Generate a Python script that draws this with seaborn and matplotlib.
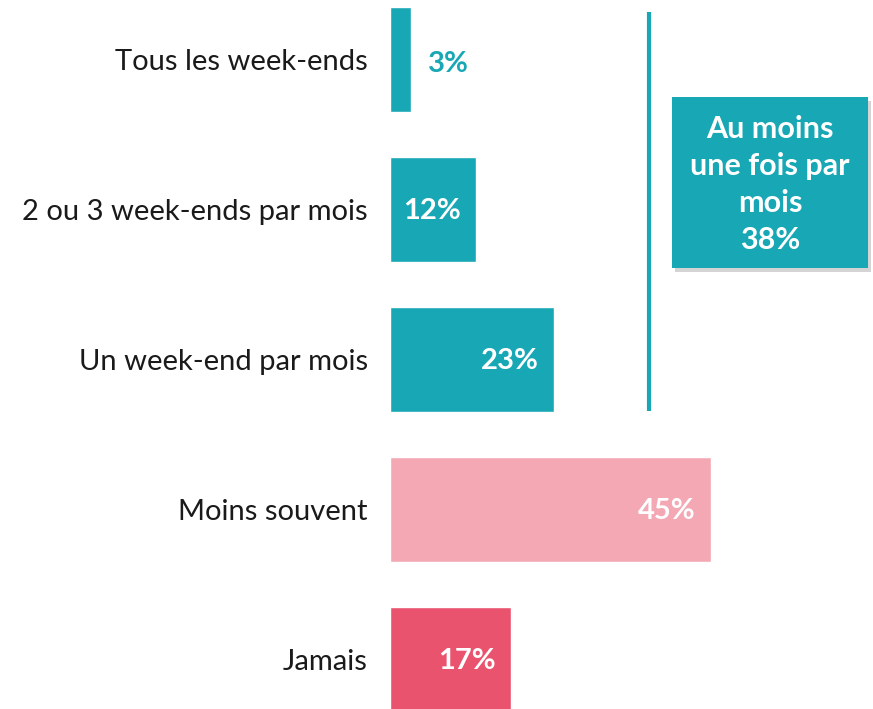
import numpy as np
import pandas as pd
import matplotlib.pyplot as plt
from matplotlib.patches import Rectangle
import seaborn as sns

# Data
categories = ['Tous les week-ends', '2 ou 3 week-ends par mois', 'Un week-end par mois',
              'Moins souvent', 'Jamais']
values = [3, 12, 23, 45, 17]
bar_colors = ['#18A7B5', '#18A7B5', '#18A7B5', '#F3A8B4', '#E9536E']
summary_label = 'Au moins\nune fois par\nmois\n38%'

teal = '#18A7B5'

sns.set_theme(style='white')
plt.rcParams['font.family'] = ['Lato', 'DejaVu Sans']

df = pd.DataFrame({'cat': categories, 'val': values})

fig = plt.figure(figsize=(8.73, 7.09), dpi=100)
ax = fig.add_axes([390 / 873, 0, 483 / 873, 1])

sns.barplot(data=df, y='cat', x='val', hue='cat', palette=bar_colors,
            orient='h', width=0.7, legend=False, saturation=1, ax=ax)

px = 7.13  # pixels per percent
ax.set_xlim(0, 483 / px)
ax.set_ylim((709 - 59) / 150, -59 / 150)
ax.set_xlabel('')
ax.set_ylabel('')
ax.set_xticks([])
ax.tick_params(axis='y', length=0, pad=16, labelsize=21, labelcolor='#1a1a1a')
for s in ax.spines.values():
    s.set_visible(False)

# value labels
for i, v in enumerate(values):
    if v < 5:
        ax.text(v + 17 / px, i + 5 / 150, f'{v}%', ha='left', va='center',
                color=teal, fontsize=21, fontweight='bold')
    else:
        ax.text(v - 15 / px, i + 2 / 150, f'{v}%', ha='right', va='center',
                color='white', fontsize=21, fontweight='bold')

# bracket line for the first three categories
x_line = (649 - 390) / px
ax.plot([x_line, x_line], [(12 - 59) / 150, (411 - 59) / 150], color=teal, lw=3,
        solid_capstyle='butt')

# summary box with shadow
x0 = (672 - 390) / px
x1 = (868 - 390) / px
y0 = (97 - 59) / 150
y1 = (268 - 59) / 150
ax.add_patch(Rectangle((x0 + 3 / px, y0 + 4 / 150), x1 - x0, y1 - y0,
                       facecolor='#aaaaaa', alpha=0.5, edgecolor='none', zorder=3))
ax.add_patch(Rectangle((x0, y0), x1 - x0, y1 - y0, facecolor=teal,
                       edgecolor='none', zorder=4))
ax.text((x0 + x1) / 2, (y0 + y1) / 2 + 2 / 150, summary_label, ha='center', va='center',
        color='white', fontsize=22, fontweight='bold', linespacing=1.38, zorder=5)

fig.savefig('out.png', dpi=100)
